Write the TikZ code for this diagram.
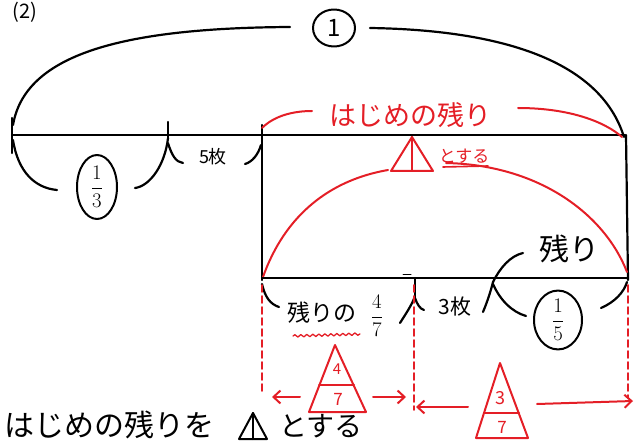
\documentclass[tikz,border=0pt]{standalone}
\usepackage{amsmath}
\usepackage{fontspec}
\newfontfamily\jpfont{Noto Sans CJK JP}
\usetikzlibrary{arrows.meta,shapes.geometric,decorations.pathmorphing}
\definecolor{penred}{RGB}{228,30,38}

\begin{document}
\begin{tikzpicture}[x=1pt, y=-1pt, line cap=round, line join=round,
  pen/.style={black, line width=2.2pt},
  redpen/.style={penred, line width=2pt},
  guide/.style={penred, line width=1.6pt, dash pattern=on 7pt off 4pt},
  jp/.style={font=\jpfont\fontsize{#1}{#1}\selectfont, inner sep=0pt},
  ring/.style={ellipse, draw, line width=2pt, inner sep=0pt},
  >={Straight Barb[length=7pt,width=13pt]}]

\useasboundingbox (0,0) rectangle (643,441);

% heading
\node[jp=20] (part) at (25,12) {(2)};

% whole amount (1)
\node[ring, minimum width=42pt, minimum height=37pt, jp=24] (whole) at (334,28) {1};
\draw[pen] (13,125) .. controls (25,55) and (120,28) .. (290,27);
\draw[pen] (370,28) .. controls (500,30) and (600,60) .. (624,137);

% upper tape
\draw[pen] (12,118) -- (12,153);
\draw[pen] (12,135) -- (625,135);
\draw[pen] (168,122) -- (168,138);
\draw[pen] (262,125) -- (262,280);
\draw[pen] (626,135) -- (628,280);

% 1/3 and 5 sheets
\draw[pen] (13,140) .. controls (18,172) and (35,188) .. (57,190);
\draw[pen] (135,188) .. controls (150,186) and (165,165) .. (168,138);
\draw[pen] (168,143) .. controls (172,156) and (176,162) .. (183,163);
\node[ring, minimum width=40pt, minimum height=64pt] (third) at (97,187) {\fontsize{20}{20}\selectfont$\dfrac{1}{3}$};
\node[jp=18] (five) at (213,157) {5枚};
\draw[pen] (245,164) .. controls (252,162) and (258,155) .. (261,145);

% first remainder label
\node[jp=27, text=penred] (rest) at (410,115) {はじめの残り};
\draw[redpen] (262,128) .. controls (275,115) and (295,111) .. (312,111);
\draw[redpen] (518,108) .. controls (570,108) and (605,122) .. (622,137);

% triangle = first remainder
\draw[redpen] (412,137) -- (433,171) -- (391,171) -- cycle;
\draw[redpen] (412,137) -- (412,171);
\node[jp=17, text=penred] (suru) at (464,156) {とする};
\draw[penred, line width=1.6pt] (443,167) -- (488,166);
\draw[redpen] (263,277) .. controls (285,215) and (330,180) .. (388,170);
\draw[redpen] (446,163) .. controls (540,165) and (605,215) .. (627,272);

% lower tape
\draw[pen] (262,278) -- (628,278);
\draw[black, line width=1pt] (403,274) -- (411,274);
\draw[pen] (262,284) .. controls (265,297) and (270,304) .. (279,307);
\draw[pen] (415,278) -- (415,298);
\draw[pen] (400,323) .. controls (405,315) and (412,305) .. (415,296);
\draw[pen] (415,298) .. controls (417,304) and (420,309) .. (424,310);
\node[jp=23] (restof) at (322,313) {残りの};
\draw[penred, line width=1.3pt, decorate, decoration={snake, amplitude=1.2pt, segment length=6pt}] (293,336) -- (360,334);
\node[inner sep=0pt] (fourth) at (377,316) {\fontsize{22}{22}\selectfont$\dfrac{4}{7}$};
\node[jp=21] (three) at (455,307) {3枚};
\draw[pen] (483,312) .. controls (488,300) and (491,290) .. (493,282);
\draw[pen] (493,284) .. controls (500,300) and (512,312) .. (526,316);
\draw[pen] (493,282) .. controls (500,268) and (510,256) .. (523,253);
\node[jp=30] (left) at (569,249) {残り};
\node[ring, minimum width=48pt, minimum height=54pt] (fifth) at (558,320) {\fontsize{20}{20}\selectfont$\dfrac{1}{5}$};
\draw[pen] (601,308) .. controls (615,302) and (624,292) .. (627,282);

% guides
\draw[guide] (262,285) -- (262,392);
\draw[guide] (414,285) -- (414,410);
\draw[guide] (628,285) -- (628,398);

% 4/7 of triangle
\draw[redpen, ->] (300,397) -- (272,397);
\draw[redpen, ->] (373,397) -- (406,397);
\draw[redpen] (335,345) -- (366,412) -- (309,412) -- cycle;
\draw[redpen] (319,385) -- (354,385);
\node[jp=15, text=penred] (four) at (337,369) {4};
\node[jp=17, text=penred] (seven) at (338,399) {7};

% 3/7 of triangle
\draw[redpen, ->] (468,407) -- (416,407);
\draw[redpen, ->] (537,404) -- (633,401);
\draw[redpen] (500,363) -- (528,438) -- (476,438) -- cycle;
\draw[redpen] (484,413) -- (519,413);
\node[jp=18, text=penred] (threeb) at (500,398) {3};
\node[jp=17, text=penred] (sevenb) at (502,427) {7};

% bottom line of text
\node[jp=30] (note) at (110,425) {はじめの残りを};
\draw[black, line width=2pt] (253,413) -- (267,439) -- (239,439) -- cycle;
\draw[black, line width=2pt] (253,413) -- (253,439);
\node[jp=28] (noteb) at (321,426) {とする};

\end{tikzpicture}
\end{document}
